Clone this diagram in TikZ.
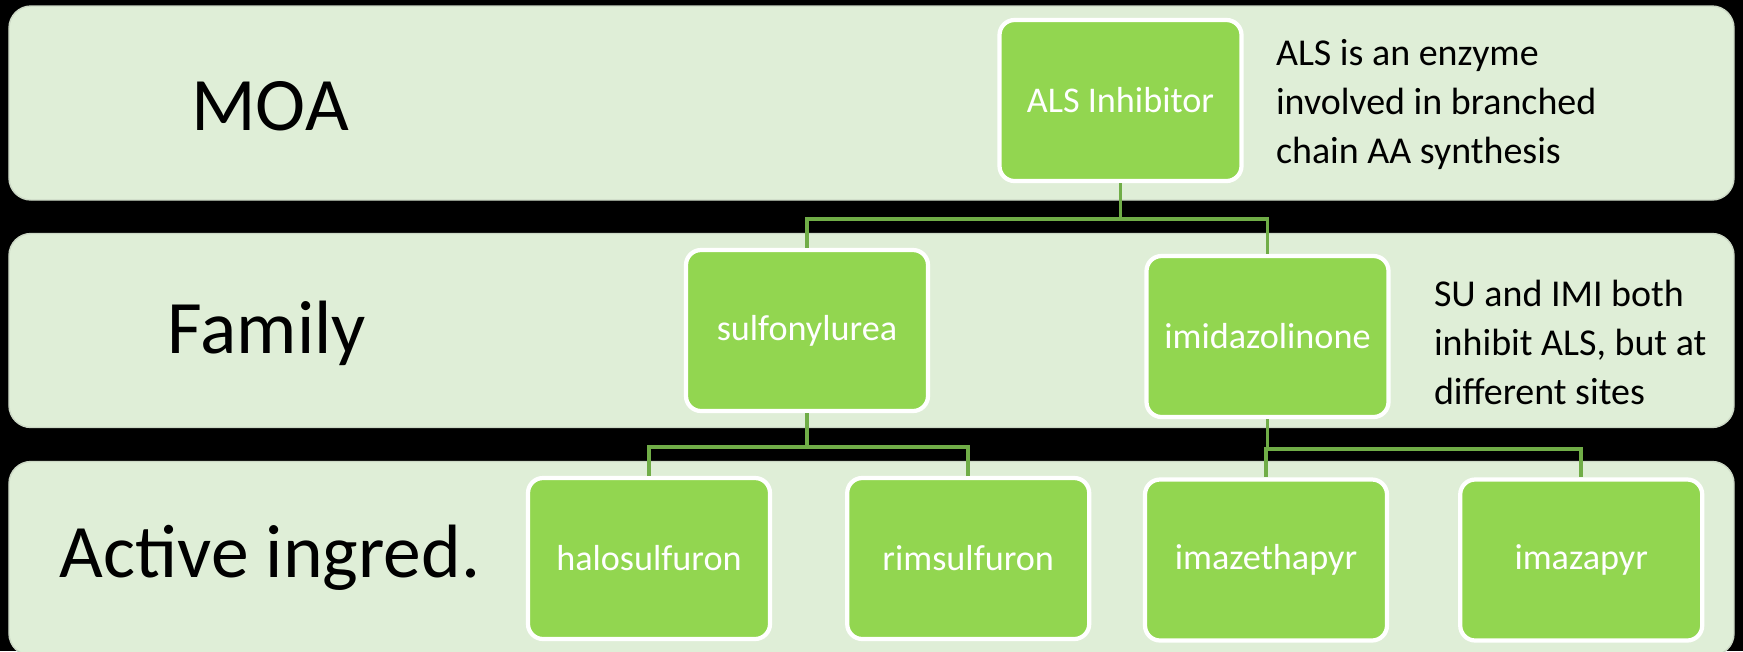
\documentclass[tikz,border=0pt]{standalone}
\usepackage{fontspec}
\setmainfont{Carlito}
\usetikzlibrary{positioning}

\definecolor{bandgreen}{RGB}{223,238,215}
\definecolor{boxgreen}{RGB}{146,214,80}
\definecolor{linegreen}{RGB}{112,173,71}

\begin{document}
\begin{tikzpicture}
    \tikzset{
        band/.style = {rectangle, rounded corners=0.22cm, draw=bandgreen!80!gray, fill=bandgreen, minimum width=17.25cm, minimum height=1.94cm},
        level/.style = {font=\fontsize{21.5}{25}\selectfont, text=black},
        item/.style = {rectangle, rounded corners=0.15cm, draw=white, line width=1.2pt, fill=boxgreen, text=white, minimum width=2.42cm, minimum height=1.61cm, font=\fontsize{10.3}{12}\selectfont},
        note/.style = {align=left, font=\fontsize{10.8}{14}\selectfont},
        line/.style = {draw=linegreen, line width=1pt}
    }
    \fill[black] (0,0) rectangle (17.43,6.51);
    \useasboundingbox (0,0) rectangle (17.43,6.51);

    % rows
    \node[band] (moarow) at (8.715,5.48) {};
    \node[band] (famrow) at (8.715,3.205) {};
    \node[band] (actrow) at (8.715,0.925) {};
    \node[level] (moa) at (2.70,5.45) {MOA};
    \node[level] (family) at (2.67,3.18) {Family};
    \node[level] (active) at (2.70,0.93) {Active ingred.};

    % boxes
    \node[item] (als) at (11.205,5.505) {ALS Inhibitor};
    \node[item] (sulf) at (8.07,3.205) {sulfonylurea};
    \node[item] (imid) at (12.675,3.145) {imidazolinone};
    \node[item] (halo) at (6.49,0.925) {halosulfuron};
    \node[item, right=0.73cm of halo] (rim) {rimsulfuron};
    \node[item] (imaze) at (12.66,0.91) {imazethapyr};
    \node[item, right=0.69cm of imaze] (imazapyr) {imazapyr};

    % side notes
    \node[note, right=0.2cm of als, yshift=-0.04cm] (alsnote) {ALS is an enzyme\\involved in branched\\chain AA synthesis};
    \node[note, right=0.31cm of imid, yshift=-0.06cm] (sunote) {SU and IMI both\\inhibit ALS, but at\\different sites};

    % connectors
    \coordinate (split1) at ([yshift=-0.36cm]als.south);
    \coordinate (split2) at ([yshift=-0.34cm]sulf.south);
    \coordinate (split3) at ([yshift=-0.30cm]imid.south);
    \path[line] (als.south) -- (split1) -| (sulf.north);
    \path[line] (split1) -| (imid.north);
    \path[line] (sulf.south) -- (split2) -| (halo.north);
    \path[line] (split2) -| (rim.north);
    \path[line] (imid.south) -- (split3) -| (imaze.north);
    \path[line] (split3) -| (imazapyr.north);
\end{tikzpicture}
\end{document}
